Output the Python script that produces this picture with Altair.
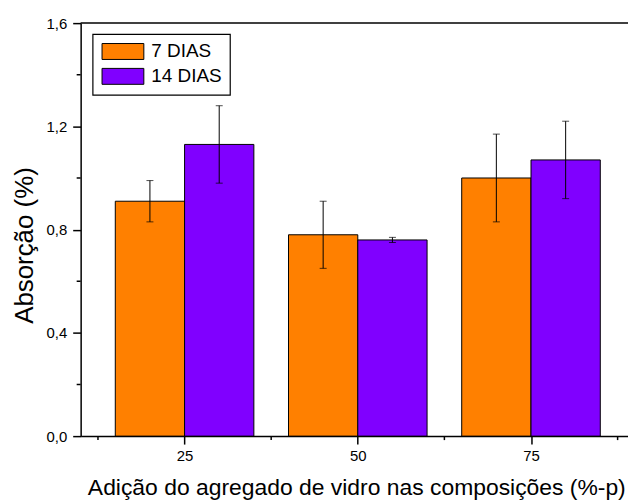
import altair as alt
import pandas as pd

# ---- data ----
categories = [25, 50, 75]
series = ["7 DIAS", "14 DIAS"]
dias7 = [0.91, 0.78, 1.00]
dias7_err = [0.08, 0.13, 0.17]
dias14 = [1.13, 0.76, 1.07]
dias14_err = [0.15, 0.01, 0.15]
colors = ["#FF8000", "#8000FF"]
y_ticks = [0, 0.4, 0.8, 1.2, 1.6]
y_minor = [0.2, 0.6, 1.0, 1.4]
x_ticks = [25, 50, 75]
x_minor = [12.5, 37.5, 62.5, 87.5]

BAR_W = 10  # bar width in x-axis units
FONT = "Liberation Sans, Arial, sans-serif"
W, H = 550, 415

rows = []
for s_i, (s, vals, errs) in enumerate(zip(series, [dias7, dias14], [dias7_err, dias14_err])):
    for c, v, e in zip(categories, vals, errs):
        x0 = c - BAR_W + s_i * BAR_W
        rows.append(dict(serie=s, x0=x0, x1=x0 + BAR_W, xc=x0 + BAR_W / 2,
                         v=v, lo=v - e, hi=v + e))
df = pd.DataFrame(rows)
caps = df.melt(id_vars=["serie", "xc"], value_vars=["lo", "hi"], value_name="yc")

xscale = alt.Scale(domain=[10, 89], nice=False, zero=False)
yscale = alt.Scale(domain=[0, 1.6], nice=False)

xaxis = alt.Axis(values=x_ticks, format="d",
                 title="Adição do agregado de vidro nas composições (%-p)",
                 tickSize=8, labelPadding=5, titleX=277, titleY=59,
                 titleBaseline="alphabetic", titleAlign="center",
                 titleFontSize=23, labelFontSize=15, grid=False)
yaxis = alt.Axis(values=y_ticks,
                 labelExpr="replace(format(datum.value, '.1f'), '.', ',')",
                 title="Absorção (%)", tickSize=8, labelPadding=6,
                 titleX=-48, titleY=223, titleAngle=270, titleAlign="center",
                 titleBaseline="alphabetic", titleFontSize=26,
                 labelFontSize=15, grid=False)


def X(field):
    return alt.X(field, scale=xscale, axis=xaxis)


def Y(field):
    return alt.Y(field, scale=yscale, axis=yaxis)


bars = alt.Chart(df).mark_bar(stroke="black", strokeWidth=1).encode(
    x=X("x0:Q"), x2="x1", y=Y("v:Q"), y2=alt.datum(0),
    color=alt.Color("serie:N", scale=alt.Scale(domain=series, range=colors),
                    legend=alt.Legend(title=None, orient="none", legendX=12, legendY=11)),
)
err = alt.Chart(df).mark_rule(color="black", strokeWidth=1).encode(
    x=X("xc:Q"), y=Y("lo:Q"), y2="hi")
cap = alt.Chart(caps).mark_tick(orient="horizontal", size=7, thickness=1, color="black").encode(
    x=X("xc:Q"), y=Y("yc:Q"))
xmin = alt.Chart(pd.DataFrame({"xm": x_minor})).mark_rule(color="black", strokeWidth=1.5).encode(
    x=X("xm:Q"), y=alt.value(H), y2=alt.value(H + 4))
ymin = alt.Chart(pd.DataFrame({"ym": y_minor})).mark_rule(color="black", strokeWidth=1.5).encode(
    y=Y("ym:Q"), x=alt.value(0), x2=alt.value(-4))
top = alt.Chart(pd.DataFrame({"yt": [1.6]})).mark_rule(color="black", strokeWidth=1.5).encode(
    y=Y("yt:Q"), x=alt.value(0), x2=alt.value(W + 10))

chart = alt.layer(bars, err, cap, xmin, ymin, top).properties(
    width=W, height=H,
    autosize=alt.AutoSizeParams(type="none"),
    padding={"left": 73, "top": 14, "right": 0, "bottom": 63},
    background="white",
).configure_axis(
    domainColor="black", domainWidth=1.5, tickColor="black", tickWidth=1.5,
    labelColor="black", titleColor="black", labelFont=FONT, titleFont=FONT,
    titleFontWeight="normal",
).configure_view(strokeWidth=0).configure_legend(
    strokeColor="black", strokeWidth=1.2, padding=8,
    symbolType="M-1,-1H4.25V1H-1Z", symbolSize=256,
    symbolStrokeColor="black", symbolStrokeWidth=1,
    labelFont=FONT, labelFontSize=19, labelColor="black",
    labelOffset=32, rowPadding=4,
)

chart.save("out.html", embed_options={"renderer": "svg", "actions": False})
